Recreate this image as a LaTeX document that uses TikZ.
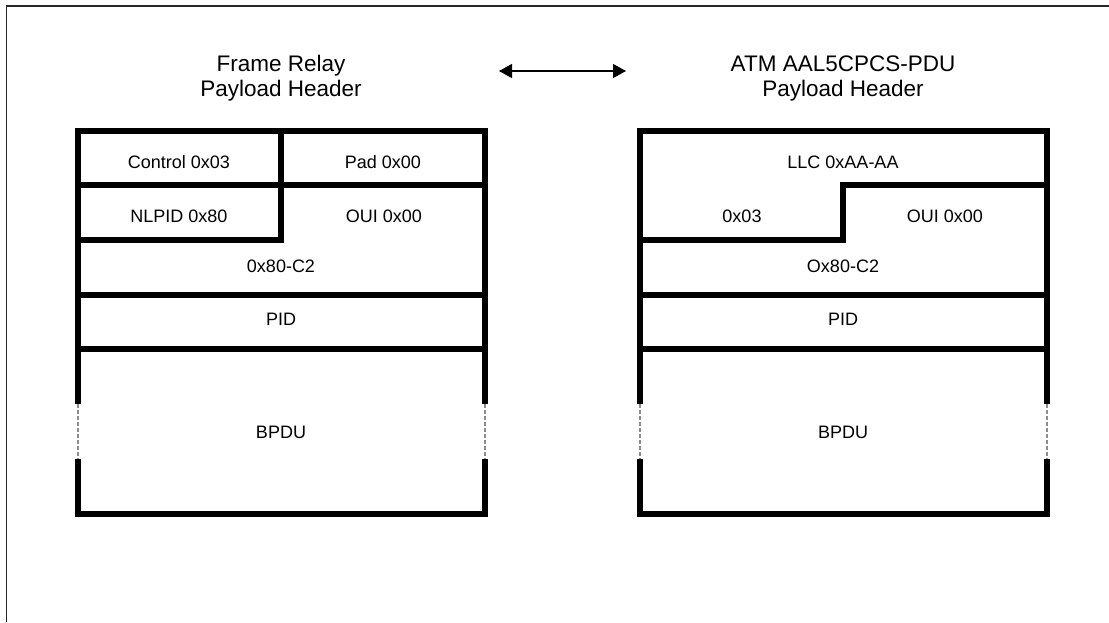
\documentclass[tikz,border=0pt]{standalone}
\usepackage{fontspec}
\setmainfont{Liberation Sans}
\usetikzlibrary{arrows.meta}
\tikzset{
  frameline/.style={line width=1.4pt, draw=black!85},
  wall/.style={line width=6pt, line join=miter, line cap=butt},
  gapline/.style={line width=1.5pt, draw=black!45, dash pattern=on 4pt off 2pt},
  cell/.style={anchor=base, inner sep=0pt, font=\fontsize{18}{21.6}\selectfont},
  title/.style={anchor=base, inner sep=0pt, font=\fontsize{22.5}{26}\selectfont},
  twoway/.style={line width=1.2pt, {Triangle[length=13pt,width=14pt]}-{Triangle[length=13pt,width=14pt]}}
}
\begin{document}
\begin{tikzpicture}[x=1pt,y=-1pt]
\useasboundingbox (0,0) rectangle (1109,622);
% page frame
\coordinate (fA) at (6.5,622);
\coordinate (fB) at (6.5,6);
\coordinate (fC) at (1109,6);
\draw[frameline] (fA) -- (fB) -- (fC);

% titles
\node[title] (t1a) at (281,71) {Frame Relay};
\node[title] (t1b) at (281,96) {Payload Header};
\node[title] (t2a) at (843,71) {ATM AAL5CPCS-PDU};
\node[title] (t2b) at (843,96) {Payload Header};
\coordinate (arL) at (499,71);
\coordinate (arR) at (626,71);
\draw[twoway] (arL) -- (arR);

% ---------- left box ----------
\coordinate (L1) at (78,131);  \coordinate (R1) at (485,131);
\coordinate (L2) at (78,185);  \coordinate (R2) at (485,185);
\coordinate (M1) at (281,131); \coordinate (M3) at (281,240);
\coordinate (L3) at (78,240);
\coordinate (L4) at (78,295);  \coordinate (R4) at (485,295);
\coordinate (L5) at (78,349);  \coordinate (R5) at (485,349);
\coordinate (L6) at (78,404);  \coordinate (R6) at (485,404);
\coordinate (L7) at (78,459);  \coordinate (R7) at (485,459);
\coordinate (L8) at (78,514);  \coordinate (R8) at (485,514);
\draw[wall] (L6) -- (L1) -- (R1) -- (R6);
\draw[wall] (L7) -- (L8) -- (R8) -- (R7);
\draw[wall] (L2) -- (R2);
\draw[wall] (M1) -- (M3) -- (L3);
\draw[wall] (L4) -- (R4);
\draw[wall] (L5) -- (R5);
\draw[gapline] (L6) -- (L7);
\draw[gapline] (R6) -- (R7);

\node[cell] (c1) at (179,168) {Control 0x03};
\node[cell] (c2) at (383,168) {Pad 0x00};
\node[cell] (c3) at (179,222) {NLPID 0x80};
\node[cell] (c4) at (384,222) {OUI 0x00};
\node[cell] (c5) at (281,272) {0x80-C2};
\node[cell] (c6) at (281,325) {PID};
\node[cell] (c7) at (281,438) {BPDU};

% ---------- right box ----------
\coordinate (A1) at (640,131);  \coordinate (B1) at (1047,131);
\coordinate (A3) at (640,240);  \coordinate (S3) at (843,240);
\coordinate (S2) at (843,185);  \coordinate (B2) at (1047,185);
\coordinate (A4) at (640,295);  \coordinate (B4) at (1047,295);
\coordinate (A5) at (640,349);  \coordinate (B5) at (1047,349);
\coordinate (A6) at (640,404);  \coordinate (B6) at (1047,404);
\coordinate (A7) at (640,459);  \coordinate (B7) at (1047,459);
\coordinate (A8) at (640,514);  \coordinate (B8) at (1047,514);
\draw[wall] (A6) -- (A1) -- (B1) -- (B6);
\draw[wall] (A7) -- (A8) -- (B8) -- (B7);
\draw[wall] (A3) -- (S3) -- (S2) -- (B2);
\draw[wall] (A4) -- (B4);
\draw[wall] (A5) -- (B5);
\draw[gapline] (A6) -- (A7);
\draw[gapline] (B6) -- (B7);

\node[cell] (d1) at (843,168) {LLC 0xAA-AA};
\node[cell] (d2) at (742,222) {0x03};
\node[cell] (d3) at (945,222) {OUI 0x00};
\node[cell] (d4) at (843,272) {Ox80-C2};
\node[cell] (d5) at (843,325) {PID};
\node[cell] (d6) at (843,438) {BPDU};
\end{tikzpicture}
\end{document}
